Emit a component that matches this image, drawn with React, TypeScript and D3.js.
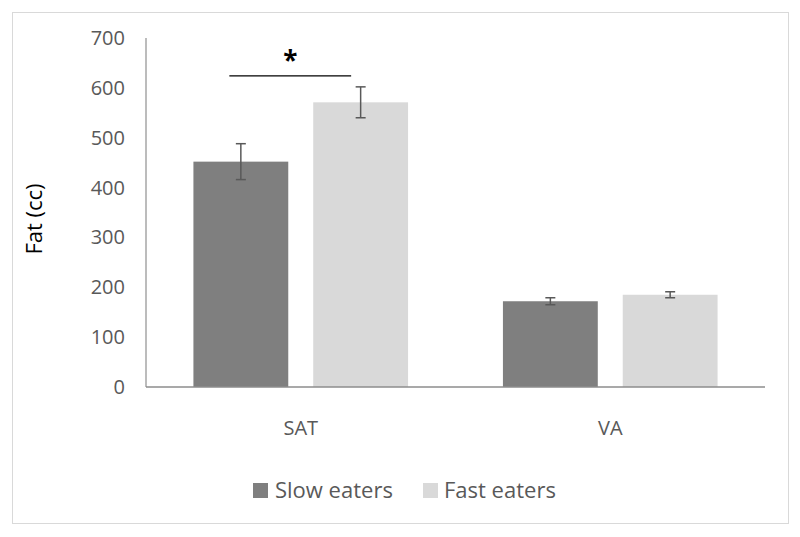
import React from "react";
import * as d3 from "d3";

const categories = ["SAT", "VA"];
const seriesNames = ["Slow eaters", "Fast eaters"];
const slowValues = [452, 172];
const fastValues = [571, 185];
const slowErrors = [36, 7];
const fastErrors = [31, 6];
const yTicks = [0, 100, 200, 300, 400, 500, 600, 700];
const colors = ["#7f7f7f", "#d9d9d9"];

export default function App() {
  const W = 800, H = 537;
  const left = 146, right = 765, top = 38, bottom = 387;
  const font = "'Open Sans', 'Liberation Sans', sans-serif";
  const y = d3.scaleLinear().domain([0, 700]).range([bottom, top]);
  const x0 = d3.scaleBand<string>().domain(categories).range([left, right]).paddingInner(0.3065).paddingOuter(0.1532);
  const x1 = d3.scaleBand<string>().domain(seriesNames).range([0, x0.bandwidth()]).paddingInner(0.2083);
  const series = [
    { name: seriesNames[0], values: slowValues, errs: slowErrors, color: colors[0] },
    { name: seriesNames[1], values: fastValues, errs: fastErrors, color: colors[1] },
  ];
  const bw = x1.bandwidth();
  const satSlowCenter = (x0("SAT") as number) + (x1(seriesNames[0]) as number) + bw / 2;
  const satFastCenter = (x0("SAT") as number) + (x1(seriesNames[1]) as number) + bw / 2;
  const sigY = y(624);
  const sigX1 = satSlowCenter - 11.5;
  const sigX2 = satFastCenter - 9.5;
  return (
    <svg width={W} height={H} style={{ position: "absolute", left: 0, top: 0, background: "#fff" }}>
      <rect x={12.5} y={12.5} width={776} height={511} fill="#fff" stroke="#d9d9d9" strokeWidth={1} />
      {yTicks.map((t) => (
        <text key={t} x={125} y={y(t)} dy="0.35em" textAnchor="end" fontFamily={font} fontSize={20} fill="#595959">
          {t}
        </text>
      ))}
      {series.map((s) =>
        categories.map((c, i) => {
          const bx = (x0(c) as number) + (x1(s.name) as number);
          return (
            <rect key={s.name + c} x={bx} y={y(s.values[i])} width={bw} height={y(0) - y(s.values[i])} fill={s.color} />
          );
        })
      )}
      {series.map((s) =>
        categories.map((c, i) => {
          const cx = (x0(c) as number) + (x1(s.name) as number) + bw / 2;
          const y1 = y(s.values[i] + s.errs[i]);
          const y2 = y(s.values[i] - s.errs[i]);
          return (
            <g key={"e" + s.name + c} stroke="#595959" strokeWidth={1.5}>
              <line x1={cx} x2={cx} y1={y1} y2={y2} />
              <line x1={cx - 5} x2={cx + 5} y1={y1} y2={y1} />
              <line x1={cx - 5} x2={cx + 5} y1={y2} y2={y2} />
            </g>
          );
        })
      )}
      <line x1={left} x2={left} y1={top} y2={bottom} stroke="#a6a6a6" strokeWidth={1.5} />
      <line x1={left} x2={right} y1={bottom} y2={bottom} stroke="#8c8c8c" strokeWidth={1.5} />
      {categories.map((c) => (
        <text key={c} x={(x0(c) as number) + x0.bandwidth() / 2} y={428} dy="0.35em" textAnchor="middle" fontFamily={font} fontSize={20} fill="#595959">
          {c}
        </text>
      ))}
      <text transform={`translate(34,219) rotate(-90)`} textAnchor="middle" dy="0.35em" fontFamily={font} fontSize={22} fill="#000">
        Fat (cc)
      </text>
      <line x1={sigX1} x2={sigX2} y1={sigY} y2={sigY} stroke="#000" strokeWidth={1.2} />
      <text x={(sigX1 + sigX2) / 2} y={70} textAnchor="middle" fontFamily={font} fontSize={26} fontWeight="bold" fill="#000">
        *
      </text>
      <g>
        <rect x={253} y={483} width={15} height={15} fill={colors[0]} />
        <text x={275} y={490.5} dy="0.35em" fontFamily={font} fontSize={22} fill="#595959">{seriesNames[0]}</text>
        <rect x={423} y={483} width={15} height={15} fill={colors[1]} />
        <text x={444} y={490.5} dy="0.35em" fontFamily={font} fontSize={22} fill="#595959">{seriesNames[1]}</text>
      </g>
    </svg>
  );
}
